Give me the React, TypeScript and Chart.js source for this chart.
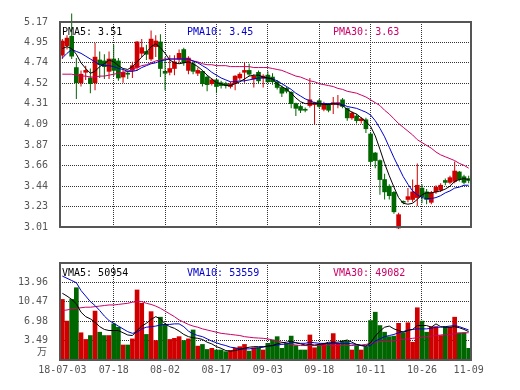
import { useEffect, useRef } from 'react';
import { Chart, registerables } from 'chart.js';
Chart.register(...registerables);

// ---------- data ----------
const dates = [
  '07-03','07-04','07-05','07-06','07-09','07-10','07-11','07-12','07-13','07-16','07-17','07-18','07-19','07-20','07-23','07-24','07-25','07-26','07-27','07-30','07-31',
  '08-01','08-02','08-03','08-06','08-07','08-08','08-09','08-10','08-13','08-14','08-15','08-16','08-17','08-20','08-21','08-22','08-23','08-24','08-27','08-28','08-29','08-30','08-31',
  '09-03','09-04','09-05','09-06','09-07','09-10','09-11','09-12','09-13','09-14','09-17','09-18','09-19','09-20','09-21','09-25','09-26','09-27','09-28',
  '10-08','10-09','10-10','10-11','10-12','10-15','10-16','10-17','10-18','10-19','10-22','10-23','10-24','10-25','10-26','10-29','10-30','10-31',
  '11-01','11-02','11-05','11-06','11-07','11-08','11-09'
];
const axisLabels = ['18-07-03','07-18','08-02','08-17','09-03','09-18','10-11','10-26','11-09'];

const opens = [
  4.82,4.92,5.02,4.69,4.53,4.64,4.58,4.53,4.77,4.76,
  4.65,4.78,4.76,4.59,4.63,4.66,4.69,4.84,4.86,4.78,
  4.91,4.96,4.65,4.64,4.68,4.78,4.88,4.66,4.73,4.63,
  4.65,4.59,4.52,4.56,4.53,4.52,4.49,4.52,4.58,4.64,
  4.66,4.57,4.64,4.58,4.61,4.59,4.54,4.48,4.47,4.43,
  4.31,4.28,4.25,4.29,4.30,4.34,4.25,4.30,4.30,4.31,
  4.35,4.26,4.16,4.18,4.13,4.14,3.99,3.79,3.71,3.51,
  3.44,3.375,3.00,3.28,3.30,3.30,3.32,3.42,3.38,3.27,
  3.38,3.40,3.50,3.48,3.49,3.59,3.54,3.52
];
const closes = [
  4.97,5.00,4.81,4.53,4.62,4.66,4.52,4.80,4.72,4.70,
  4.78,4.66,4.58,4.64,4.62,4.71,4.96,4.90,4.83,4.99,
  4.97,4.68,4.63,4.68,4.75,4.84,4.74,4.79,4.65,4.66,
  4.52,4.51,4.56,4.49,4.50,4.50,4.52,4.60,4.62,4.66,
  4.62,4.60,4.55,4.60,4.54,4.54,4.48,4.42,4.44,4.31,
  4.26,4.24,4.24,4.35,4.32,4.28,4.31,4.24,4.32,4.32,
  4.28,4.16,4.21,4.13,4.15,4.045,3.70,3.71,3.51,3.38,
  3.34,3.17,3.14,3.27,3.33,3.38,3.45,3.33,3.30,3.37,
  3.43,3.45,3.48,3.53,3.60,3.51,3.48,3.50
];
const highs = [
  4.99,5.03,5.26,4.79,4.66,4.71,4.68,4.95,4.86,4.83,
  4.86,4.93,4.79,4.67,4.66,4.75,4.97,4.99,4.93,5.08,
  5.03,5.04,4.80,4.82,4.82,4.88,4.90,4.81,4.76,4.69,
  4.66,4.61,4.58,4.57,4.55,4.54,4.54,4.61,4.64,4.74,
  4.73,4.62,4.66,4.62,4.65,4.63,4.56,4.50,4.49,4.44,
  4.32,4.30,4.27,4.58,4.33,4.36,4.33,4.31,4.38,4.40,
  4.37,4.27,4.23,4.20,4.17,4.16,4.01,3.80,3.72,3.57,
  3.46,3.39,3.16,3.29,3.42,3.51,3.68,3.46,3.41,3.39,
  3.45,3.47,3.52,3.55,3.70,3.60,3.56,3.55
];
const lows = [
  4.78,4.88,4.78,4.36,4.49,4.56,4.42,4.45,4.58,4.57,
  4.57,4.60,4.55,4.53,4.57,4.58,4.66,4.80,4.77,4.76,
  4.80,4.59,4.45,4.61,4.61,4.74,4.71,4.62,4.62,4.60,
  4.49,4.44,4.50,4.42,4.47,4.47,4.47,4.45,4.56,4.53,
  4.60,4.48,4.52,4.48,4.53,4.51,4.46,4.38,4.42,4.26,
  4.18,4.21,4.22,4.27,4.09,4.26,4.23,4.22,4.20,4.26,
  4.26,4.13,4.14,4.10,4.10,4.00,3.66,3.63,3.35,3.30,
  3.30,3.15,2.99,3.25,3.27,3.27,3.23,3.26,3.25,3.25,
  3.36,3.38,3.45,3.46,3.47,3.49,3.46,3.47
];
const pma5 = [
  4.89,4.91,4.89,4.83,4.74,4.68,4.63,4.65,4.70,4.73,
  4.77,4.75,4.71,4.68,4.67,4.70,4.75,4.80,4.85,4.91,
  4.94,4.90,4.84,4.77,4.74,4.73,4.74,4.75,4.73,4.70,
  4.66,4.61,4.57,4.53,4.52,4.50,4.50,4.52,4.54,4.57,
  4.60,4.61,4.61,4.59,4.58,4.57,4.52,4.49,4.46,4.42,
  4.37,4.33,4.31,4.31,4.31,4.31,4.30,4.30,4.31,4.30,
  4.29,4.25,4.22,4.20,4.16,4.12,4.07,3.97,3.83,3.68,
  3.55,3.43,3.32,3.26,3.25,3.26,3.30,3.35,3.37,3.37,
  3.38,3.39,3.41,3.44,3.49,3.51,3.52,3.51
];
const pma10 = [
  4.79,4.84,4.88,4.86,4.84,4.81,4.78,4.75,4.72,4.71,
  4.71,4.70,4.68,4.67,4.65,4.65,4.66,4.69,4.71,4.73,
  4.74,4.76,4.77,4.78,4.78,4.78,4.78,4.78,4.76,4.74,
  4.71,4.68,4.64,4.61,4.58,4.56,4.54,4.54,4.55,4.55,
  4.56,4.57,4.58,4.58,4.58,4.57,4.55,4.52,4.49,4.46,
  4.42,4.39,4.36,4.34,4.32,4.31,4.31,4.31,4.31,4.31,
  4.30,4.28,4.27,4.26,4.24,4.22,4.19,4.13,4.05,3.96,
  3.85,3.74,3.64,3.54,3.46,3.39,3.35,3.32,3.31,3.31,
  3.32,3.34,3.37,3.39,3.42,3.43,3.45,3.45
];
const pma30 = [
  4.62,4.62,4.62,4.61,4.60,4.60,4.59,4.59,4.60,4.60,
  4.61,4.62,4.63,4.64,4.65,4.67,4.69,4.71,4.72,4.74,
  4.76,4.77,4.78,4.78,4.78,4.78,4.78,4.77,4.76,4.75,
  4.73,4.72,4.72,4.71,4.71,4.71,4.70,4.70,4.70,4.70,
  4.70,4.69,4.69,4.69,4.69,4.68,4.67,4.66,4.64,4.62,
  4.60,4.59,4.57,4.55,4.54,4.52,4.51,4.50,4.49,4.47,
  4.46,4.44,4.43,4.42,4.40,4.38,4.35,4.32,4.29,4.24,
  4.20,4.15,4.10,4.06,4.02,3.98,3.93,3.90,3.87,3.84,
  3.80,3.77,3.75,3.73,3.71,3.68,3.66,3.63
];
const volumes = [
  10.9,7.0,10.9,13.0,4.9,3.7,4.4,8.8,5.0,4.4,
  4.4,6.5,5.9,2.7,2.7,3.8,12.6,10.2,4.6,8.7,
  3.5,7.7,6.4,3.7,3.9,4.2,3.5,3.8,5.4,2.5,
  2.8,1.9,2.1,1.8,1.8,1.5,1.7,2.1,2.4,2.8,
  1.6,2.2,2.2,1.8,3.0,3.6,4.2,2.1,3.0,4.3,
  2.6,1.8,1.8,4.5,2.2,2.8,3.0,3.0,4.75,3.0,
  3.4,3.4,1.8,2.6,1.8,2.4,7.1,8.6,6.2,5.0,
  4.2,4.3,6.6,4.9,6.7,3.2,9.4,7.0,5.0,6.0,
  6.0,4.4,6.0,5.9,7.7,4.9,4.9,2.1
];
const vma5 = [
  12.0,11.5,10.9,10.1,8.6,7.8,7.4,6.8,6.0,5.5,
  5.3,5.3,5.3,4.9,4.5,4.4,5.3,6.1,6.6,7.3,
  7.8,7.4,6.5,6.0,5.7,5.2,4.6,4.2,4.0,3.9,
  3.7,3.2,2.9,2.4,2.1,1.7,1.6,1.7,1.9,2.1,
  2.3,2.4,2.4,2.4,2.5,2.6,2.9,3.1,3.2,3.4,
  3.1,2.9,2.7,2.8,2.7,2.8,2.9,3.2,3.2,3.2,
  3.4,3.6,3.2,2.8,2.6,2.5,3.1,4.3,5.2,5.9,
  6.1,5.6,5.3,5.0,5.3,5.5,6.2,6.2,6.2,5.9,
  6.5,6.0,5.9,5.9,6.0,5.8,5.5,5.1
];
const vma10 = [
  15.1,14.7,14.3,13.9,12.5,11.5,10.5,9.8,8.9,7.9,
  7.1,6.6,6.1,5.6,5.1,4.8,5.0,5.6,5.9,6.0,
  6.1,6.3,6.4,6.4,6.5,6.5,6.0,5.2,4.7,4.4,
  4.2,3.8,3.4,3.1,2.8,2.6,2.3,2.2,2.0,2.0,
  2.0,2.1,2.2,2.3,2.5,2.6,2.7,2.8,2.9,3.1,
  3.1,3.0,3.0,3.2,3.1,3.0,3.0,3.0,3.0,3.0,
  3.0,3.0,2.9,2.8,2.6,2.5,2.6,3.4,3.8,4.2,
  4.4,4.6,4.9,5.1,5.4,5.5,5.6,5.6,5.6,5.7,
  5.9,5.9,6.0,6.1,6.2,6.0,5.7,5.4
];
const vma30 = [
  8.9,9.0,9.2,9.3,9.4,9.5,9.5,9.6,9.7,9.8,
  9.9,9.9,10.0,10.1,10.2,10.4,10.5,10.5,10.2,10.0,
  9.7,9.3,8.8,8.3,7.8,7.2,6.8,6.4,6.1,5.9,
  5.6,5.4,5.2,5.0,4.8,4.7,4.6,4.5,4.4,4.2,
  4.1,4.0,3.95,3.9,3.8,3.6,3.4,3.2,3.0,2.8,
  2.7,2.6,2.6,2.6,2.6,2.6,2.6,2.6,2.6,2.6,
  2.6,2.6,2.6,2.7,2.7,2.8,3.0,3.2,3.3,3.4,
  3.4,3.5,3.6,3.7,3.8,3.9,4.0,4.1,4.2,4.3,
  4.4,4.5,4.6,4.6,4.7,4.8,4.9,4.9
];
const priceTicks = [3.01, 3.23, 3.44, 3.66, 3.87, 4.09, 4.31, 4.52, 4.74, 4.95, 5.17];
const volTicks = [0, 3.49, 6.98, 10.47, 13.96];
const volMax = 17.45;
const volUnit = '万';
const priceLegend = ['PMA5: 3.51', 'PMA10: 3.45', 'PMA30: 3.63'];
const volLegend = ['VMA5: 50954', 'VMA10: 53559', 'VMA30: 49082'];

// ---------- style ----------
const RED = '#d00000';
const GREEN = '#006600';
const C5 = '#000000';
const C10 = '#0000cc';
const C30 = '#cc0066';
const GRID = '#333333';
const FRAME = '#555555';
const TICK = '#555555';
const FONT = '"DejaVu Sans Mono", monospace';
const legendColors = [C5, C10, C30];
const legendDx = [2, 127, 273];

const tickText: Record<number, string> = {};
dates.forEach((d, i) => {
  const hit = axisLabels.find((l) => l.endsWith(d));
  if (hit) tickText[i] = hit;
});
const gridIdx = new Set(
  Object.keys(tickText).map(Number).filter((i) => i !== 0 && i !== dates.length - 1)
);
const candleColors = opens.map((o, i) => (closes[i] >= o ? RED : GREEN));

function overlay(legend: string[], unit?: string) {
  return {
    id: 'overlay',
    afterDatasetsDraw(chart: any) {
      const { ctx, chartArea: a } = chart;
      ctx.save();
      ctx.strokeStyle = FRAME;
      ctx.lineWidth = 2;
      ctx.setLineDash([]);
      ctx.strokeRect(a.left, a.top, a.right - a.left, a.bottom - a.top);
      ctx.font = '10px ' + FONT;
      ctx.textBaseline = 'middle';
      ctx.textAlign = 'left';
      legend.forEach((t, i) => {
        ctx.fillStyle = legendColors[i];
        ctx.fillText(t, a.left + legendDx[i], a.top + 10);
      });
      if (unit) {
        ctx.fillStyle = TICK;
        ctx.font = '10px "Noto Sans CJK SC"';
        ctx.textAlign = 'right';
        ctx.fillText(unit, a.left - 13, a.bottom - 9);
      }
      ctx.restore();
    },
  };
}

function xScale(showLabels: boolean) {
  return {
    type: 'category',
    offset: true,
    grid: {
      offset: false,
      drawTicks: false,
      lineWidth: 1,
      color: (c: any) => (gridIdx.has(c.index) ? GRID : 'rgba(0,0,0,0)'),
      borderDash: [1, 1],
    },
    border: { display: false, dash: [1, 1] },
    ticks: {
      display: showLabels,
      autoSkip: false,
      maxRotation: 0,
      minRotation: 0,
      padding: 4,
      color: TICK,
      font: { family: FONT, size: 10 },
      callback: (_v: any, i: number) => tickText[i] ?? '',
    },
    afterFit: (s: any) => {
      s.height = showLabels ? 20 : 0;
    },
  };
}

function yScale(min: number, max: number, ticks: number[], fmt: (v: number) => string) {
  return {
    min,
    max,
    grid: { drawTicks: false, color: GRID, lineWidth: 1, borderDash: [1, 1] },
    border: { display: false, dash: [1, 1] },
    afterBuildTicks: (s: any) => {
      s.ticks = ticks.map((v) => ({ value: v }));
    },
    ticks: {
      autoSkip: false,
      padding: 12,
      color: TICK,
      font: { family: FONT, size: 10 },
      callback: (v: any) => fmt(Number(v)),
    },
    afterFit: (s: any) => {
      s.width = 60;
    },
  };
}

function line(data: number[], color: string) {
  return {
    type: 'line',
    data,
    borderColor: color,
    backgroundColor: color,
    borderWidth: 1,
    pointRadius: 0,
    tension: 0,
    order: 0,
  };
}

export default function App() {
  const topRef = useRef<HTMLCanvasElement>(null);
  const botRef = useRef<HTMLCanvasElement>(null);

  useEffect(() => {
    const c1 = new Chart(topRef.current as HTMLCanvasElement, {
      type: 'bar',
      data: {
        labels: dates,
        datasets: [
          line(pma5, C5),
          line(pma10, C10),
          line(pma30, C30),
          {
            type: 'bar',
            data: opens.map((o, i) => [o, closes[i]]),
            backgroundColor: candleColors,
            barThickness: 4,
            grouped: false,
            minBarLength: 1,
            borderWidth: 0,
            order: 1,
            clip: false,
          },
          {
            type: 'bar',
            data: lows.map((l, i) => [l, highs[i]]),
            backgroundColor: candleColors,
            barThickness: 1,
            inflateAmount: 0,
            grouped: false,
            borderWidth: 0,
            order: 2,
            clip: false,
          },
        ] as any,
      },
      options: {
        responsive: false,
        animation: false,
        devicePixelRatio: 1,
        layout: { padding: { top: 22, right: 49, bottom: 6, left: 0 } },
        plugins: { legend: { display: false }, tooltip: { enabled: false } },
        scales: {
          x: xScale(false) as any,
          y: yScale(priceTicks[0], priceTicks[priceTicks.length - 1], priceTicks, (v) => v.toFixed(2)) as any,
        },
      },
      plugins: [overlay(priceLegend)],
    });

    const c2 = new Chart(botRef.current as HTMLCanvasElement, {
      type: 'bar',
      data: {
        labels: dates,
        datasets: [
          line(vma5, C5),
          line(vma10, C10),
          line(vma30, C30),
          {
            type: 'bar',
            data: volumes,
            backgroundColor: candleColors,
            barThickness: 4,
            grouped: false,
            borderWidth: 0,
            order: 1,
          },
        ] as any,
      },
      options: {
        responsive: false,
        animation: false,
        devicePixelRatio: 1,
        layout: { padding: { top: 11, right: 49, bottom: 10, left: 0 } },
        plugins: { legend: { display: false }, tooltip: { enabled: false } },
        scales: {
          x: xScale(true) as any,
          y: yScale(0, volMax, volTicks, (v) => (v === 0 ? '' : v.toFixed(2))) as any,
        },
      },
      plugins: [overlay(volLegend, volUnit)],
    });

    return () => {
      c1.destroy();
      c2.destroy();
    };
  }, []);

  return (
    <div style={{ position: 'fixed', left: 0, top: 0, width: 520, height: 390, background: '#ffffff' }}>
      <canvas
        ref={topRef}
        width={520}
        height={245}
        style={{ position: 'absolute', left: 0, top: 0, width: 520, height: 245 }}
      />
      <canvas
        ref={botRef}
        width={520}
        height={145}
        style={{ position: 'absolute', left: 0, top: 245, width: 520, height: 145 }}
      />
    </div>
  );
}
